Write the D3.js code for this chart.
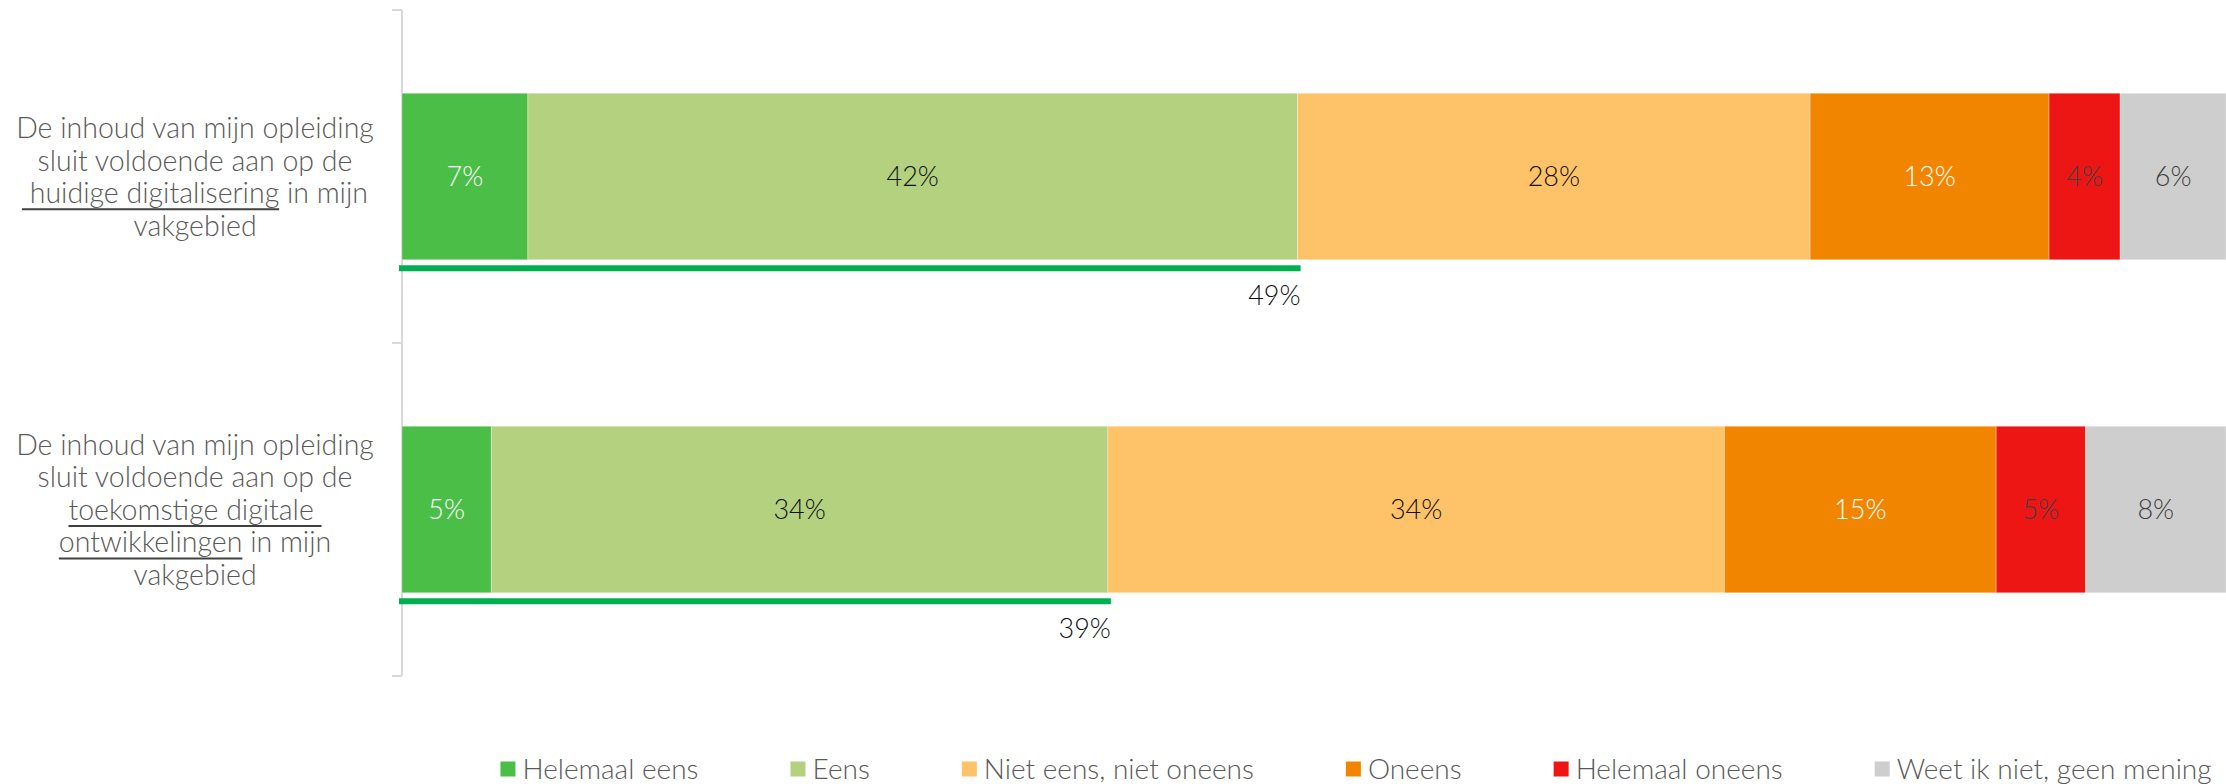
<!DOCTYPE html>
<html>
<head>
<meta charset="utf-8">
<script src="https://cdn.jsdelivr.net/npm/d3@7"></script>
<style>
  html, body { margin: 0; padding: 0; background: #fff; }
  svg { display: block; }
</style>
</head>
<body>
<svg width="2226" height="784"></svg>
<script>
// categories (rows) and their label lines; [text, underlined]
var categories = ["huidig", "toekomst"];
var labelLines = [
  [
    [["De inhoud van mijn opleiding", false]],
    [["sluit voldoende aan op de", false]],
    [[" huidige digitalisering", true], [" in mijn", false]],
    [["vakgebied", false]]
  ],
  [
    [["De inhoud van mijn opleiding", false]],
    [["sluit voldoende aan op de", false]],
    [["toekomstige digitale ", true]],
    [["ontwikkelingen", true], [" in mijn", false]],
    [["vakgebied", false]]
  ]
];

var series = ["Helemaal eens", "Eens", "Niet eens, niet oneens", "Oneens", "Helemaal oneens", "Weet ik niet, geen mening"];
var valuesHuidig   = [6.9, 42.2, 28.1, 13.1, 3.9, 5.8];
var valuesToekomst = [4.9, 33.8, 33.8, 14.9, 4.9, 7.7];
var values = [valuesHuidig, valuesToekomst];

var colors     = ["#4BBE47", "#B3D17E", "#FEC369", "#F28500", "#EE1614", "#CECECE"];
var textColors = ["#ffffff", "#111111", "#111111", "#ffffff", "#404040", "#404040"];

var font = "Lato";
var svg = d3.select("svg");

var x = d3.scaleLinear().domain([0, 100]).range([402, 2226]);
var y = d3.scaleBand().domain(categories).range([10, 676]).padding(0);
var barH = y.bandwidth() * 0.5;
var barOff = y.bandwidth() * 0.25;

// axis line with ticks at band boundaries
var gAxis = svg.append("g");
gAxis.append("line")
    .attr("x1", x(0)).attr("x2", x(0))
    .attr("y1", y.range()[0]).attr("y2", y.range()[1])
    .style("stroke", "#d9d9d9").style("stroke-width", 2);
var bounds = categories.map(function (c) { return y(c); }).concat([y.range()[1]]);
gAxis.selectAll(".tick").data(bounds).enter().append("line")
    .attr("x1", x(0) - 10).attr("x2", x(0))
    .attr("y1", function (d) { return d; }).attr("y2", function (d) { return d; })
    .style("stroke", "#d9d9d9").style("stroke-width", 2);

// stacked bars
categories.forEach(function (c, i) {
  var g = svg.append("g");
  var cum = 0;
  var segs = values[i].map(function (v, k) {
    var s = { k: k, v: v, x0: cum, x1: cum + v };
    cum += v;
    return s;
  });
  g.selectAll("rect").data(segs).enter().append("rect")
      .attr("x", function (d) { return x(d.x0); })
      .attr("y", y(c) + barOff)
      .attr("width", function (d) { return x(d.x1) - x(d.x0); })
      .attr("height", barH)
      .style("fill", function (d) { return colors[d.k]; })
      .style("stroke", "#ffffff").style("stroke-opacity", 0.3).style("stroke-width", 1);
  g.selectAll("text").data(segs).enter().append("text")
      .attr("x", function (d) { return (x(d.x0) + x(d.x1)) / 2; })
      .attr("y", y(c) + barOff + barH / 2)
      .attr("dy", "0.36em")
      .attr("text-anchor", "middle")
      .attr("font-family", font).attr("font-weight", 300)
      .attr("font-size", 27)
      .attr("fill", function (d) { return textColors[d.k]; })
      .text(function (d) { return Math.round(d.v) + "%"; });

  // total agree line
  var agree = values[i][0] + values[i][1];
  var ly = y(c) + barOff + barH + 8.5;
  g.append("line")
      .attr("x1", x(0)).attr("x2", x(agree))
      .attr("y1", ly).attr("y2", ly)
      .style("stroke", "#00B050").style("stroke-width", 6)
      .style("stroke-linecap", "square");
  g.append("text")
      .attr("x", x(agree) + 3)
      .attr("y", y(c) + barOff + barH + 36)
      .attr("dy", "0.36em")
      .attr("text-anchor", "end")
      .attr("font-family", font).attr("font-weight", 300)
      .attr("font-size", 27)
      .attr("fill", "#111111")
      .text(Math.round(agree) + "%");

  // category label
  var lines = labelLines[i];
  var lh = 32.5;
  var cy = y(c) + y.bandwidth() / 2;
  lines.forEach(function (parts, j) {
    var ty = cy + (j - (lines.length - 1) / 2) * lh;
    var t = svg.append("text")
        .attr("x", 195).attr("y", ty).attr("dy", "0.36em")
        .attr("text-anchor", "middle")
        .attr("font-family", font).attr("font-weight", 300)
        .attr("font-size", 28.5)
        .attr("fill", "#595959")
        .style("white-space", "pre");
    var spans = parts.map(function (p) { return t.append("tspan").text(p[0]); });
    parts.forEach(function (p, n) {
      if (!p[1]) return;
      var bb = spans[n].node().getBBox();
      svg.append("line")
          .attr("x1", bb.x).attr("x2", bb.x + bb.width)
          .attr("y1", ty + 16.5).attr("y2", ty + 16.5)
          .style("stroke", "#404040").style("stroke-width", 2);
    });
  });
});

// legend
var legend = svg.append("g");
var items = legend.selectAll("g").data(series).enter().append("g");
items.append("rect")
    .attr("width", 15).attr("height", 15)
    .attr("y", -7.5)
    .style("fill", function (d, k) { return colors[k]; });
items.append("text")
    .attr("x", 22).attr("dy", "0.36em")
    .attr("font-family", font).attr("font-weight", 300)
    .attr("font-size", 28)
    .attr("fill", "#595959")
    .text(function (d) { return d; });
var widths = [];
items.each(function () { widths.push(this.getBBox().width); });
var total = d3.sum(widths) + 92 * (series.length - 1);
var lx = 1356 - total / 2;
items.attr("transform", function (d, k) {
  var pos = lx;
  lx += widths[k] + 92;
  return "translate(" + pos + ",769)";
});
</script>
</body>
</html>
